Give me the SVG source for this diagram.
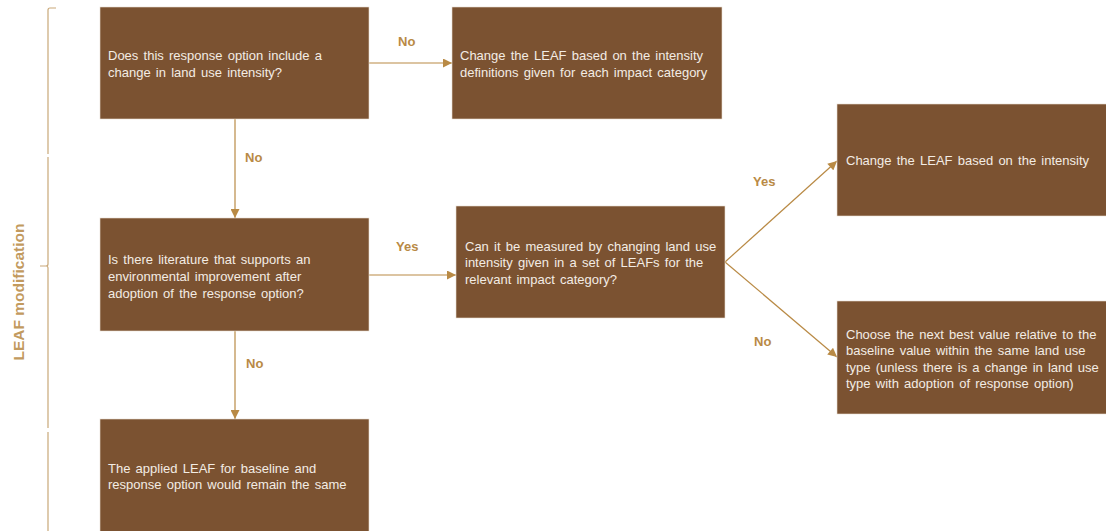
<svg xmlns="http://www.w3.org/2000/svg" width="1106" height="531" viewBox="0 0 1106 531">
  <style>
    .box { fill: #7b5231; stroke: #e9dfd4; stroke-width: 0.6; }
    .txt { font-family: "Liberation Sans", Arial, sans-serif; font-size: 13px; fill: #f3ece4; word-spacing: 1.6px; }
    .lbl { font-family: "Liberation Sans", Arial, sans-serif; font-size: 13px; font-weight: bold; fill: #b98a45; }
    .title { font-family: "Liberation Sans", Arial, sans-serif; font-size: 15.5px; font-weight: bold; fill: #c29a5e; }
    .conn { stroke: #b98a45; stroke-width: 1.2; fill: none; marker-end: url(#arrow); }
    .brace { stroke: #c9a878; stroke-width: 1.2; fill: none; }
  </style>
  <defs>
    <marker id="arrow" viewBox="0 0 10 10" refX="10" refY="5" markerWidth="10" markerHeight="9" markerUnits="userSpaceOnUse" orient="auto">
      <path d="M0,0 L10,5 L0,10 Z" fill="#b98a45"/>
    </marker>
  </defs>
  <rect width="1106" height="531" fill="#ffffff"/>

  <!-- side bracket with title -->
  <g id="bracket">
    <path class="brace" d="M56,8 L50,8 Q48,8 48,10 L48,154 M48,157 L48,264 Q48,266 46,266 L40,266 M46,266 Q48,266 48,268 L48,428 M48,432 L48,531"/>
    <text class="title" transform="translate(23.5,292) rotate(-90)" text-anchor="middle">LEAF modification</text>
  </g>

  <!-- connectors -->
  <g id="connectors">
    <line class="conn" x1="369" y1="63" x2="452" y2="63"/>
    <line class="conn" x1="235" y1="119" x2="235" y2="218"/>
    <line class="conn" x1="369" y1="275" x2="456" y2="275"/>
    <line class="conn" x1="235" y1="331" x2="235" y2="419"/>
    <line class="conn" x1="725" y1="262" x2="837" y2="161"/>
    <line class="conn" x1="725" y1="262" x2="837" y2="357"/>
    <text class="lbl" x="398" y="46">No</text>
    <text class="lbl" x="245" y="162">No</text>
    <text class="lbl" x="396" y="251">Yes</text>
    <text class="lbl" x="246" y="368">No</text>
    <text class="lbl" x="753" y="186">Yes</text>
    <text class="lbl" x="754" y="346">No</text>
  </g>

  <g id="q-intensity">
    <rect class="box" x="100" y="7" width="269" height="112"/>
    <text class="txt" x="108" y="60">Does this response option include a</text>
    <text class="txt" x="108" y="77">change in land use intensity?</text>
  </g>

  <g id="change-by-definitions">
    <rect class="box" x="452" y="7" width="270" height="112"/>
    <text class="txt" x="460" y="60">Change the LEAF based on the intensity</text>
    <text class="txt" x="460" y="77">definitions given for each impact category</text>
  </g>

  <g id="q-literature">
    <rect class="box" x="100" y="218" width="269" height="113"/>
    <text class="txt" x="108" y="264">Is there literature that supports an</text>
    <text class="txt" x="108" y="281">environmental improvement after</text>
    <text class="txt" x="108" y="298">adoption of the response option?</text>
  </g>

  <g id="q-measured">
    <rect class="box" x="456" y="206" width="269" height="112"/>
    <text class="txt" x="465" y="251">Can it be measured by changing land use</text>
    <text class="txt" x="465" y="267">intensity given in a set of LEAFs for the</text>
    <text class="txt" x="465" y="284">relevant impact category?</text>
  </g>

  <g id="change-by-intensity">
    <rect class="box" x="837" y="104" width="270" height="112"/>
    <text class="txt" x="846" y="165">Change the LEAF based on the intensity</text>
  </g>

  <g id="next-best-value">
    <rect class="box" x="837" y="301" width="270" height="113"/>
    <text class="txt" x="846" y="339">Choose the next best value relative to the</text>
    <text class="txt" x="846" y="355">baseline value within the same land use</text>
    <text class="txt" x="846" y="372">type (unless there is a change in land use</text>
    <text class="txt" x="846" y="388">type with adoption of response option)</text>
  </g>

  <g id="leaf-unchanged">
    <rect class="box" x="100" y="419" width="269" height="115"/>
    <text class="txt" x="108" y="473">The applied LEAF for baseline and</text>
    <text class="txt" x="108" y="489">response option would remain the same</text>
  </g>
</svg>
